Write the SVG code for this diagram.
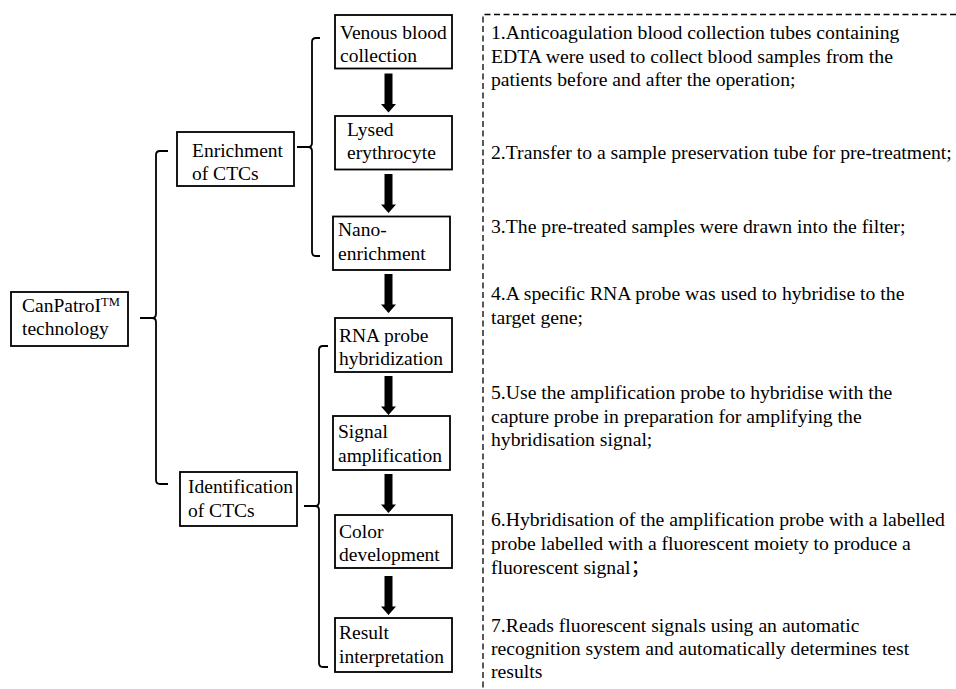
<svg xmlns="http://www.w3.org/2000/svg" xmlns:xlink="http://www.w3.org/1999/xlink" width="956" height="689" viewBox="0 0 956 689">
<style>
  .box { fill: #ffffff; stroke: #000000; stroke-width: 1.8; }
  .t { font-family: 'Liberation Serif', serif; font-size: 19.5px; fill: #000000; }
  .r { font-family: 'Liberation Serif', serif; font-size: 19.7px; fill: #000000; }
  .cjk { font-family: 'Liberation Serif', 'Noto Sans CJK SC', serif; }
  .br { fill: none; stroke: #000000; stroke-width: 1.8; }
  .dash { fill: none; stroke: #000000; stroke-width: 1.3; stroke-dasharray: 6 3.5; }
</style>
<defs>
  <path id="arrow" d="M -4 0 H 4 V 30.5 H 7.5 L 0 39 L -7.5 30.5 H -4 Z" fill="#000000"/>
</defs>
<rect width="956" height="689" fill="#ffffff"/>

<g id="connectors">
  <path class="br" d="M 168 151 H 160 Q 156 151 156 155 V 314 Q 156 318 152 318 H 140 M 152 318 Q 156 318 156 322 V 480 Q 156 484 160 484 H 168"/>
  <path class="br" d="M 320 38 H 316 Q 312 38 312 42 V 143 Q 312 147 308 147 H 297 M 308 147 Q 312 147 312 151 V 252 Q 312 256 316 256 H 320"/>
  <path class="br" d="M 328 346 H 323 Q 319 346 319 350 V 502 Q 319 506 315 506 H 304 M 315 506 Q 319 506 319 510 V 663 Q 319 667 323 667 H 328"/>
  <use xlink:href="#arrow" transform="translate(388.5 73.5)"/>
  <use xlink:href="#arrow" transform="translate(388.5 174)"/>
  <use xlink:href="#arrow" transform="translate(388.5 274)"/>
  <use xlink:href="#arrow" transform="translate(388.5 376)"/>
  <use xlink:href="#arrow" transform="translate(388.5 474)"/>
  <use xlink:href="#arrow" transform="translate(388.5 576)"/>
</g>

<g id="canpatrol">
  <rect class="box" x="11" y="292" width="117" height="54"/>
  <text class="t" x="22" y="312">CanPatroI<tspan font-size="12.5" dy="-6">TM</tspan></text>
  <text class="t" x="22" y="335">technology</text>
</g>

<g id="enrichment">
  <rect class="box" x="177" y="132" width="117" height="54"/>
  <text class="t" x="192" y="157">Enrichment</text>
  <text class="t" x="192" y="180">of CTCs</text>
</g>

<g id="identification">
  <rect class="box" x="180" y="472" width="117" height="54"/>
  <text class="t" x="188" y="493">Identification</text>
  <text class="t" x="188" y="517">of CTCs</text>
</g>

<g id="venous">
  <rect class="box" x="335" y="15" width="117" height="53.5"/>
  <text class="t" x="340" y="39">Venous blood</text>
  <text class="t" x="340" y="62">collection</text>
</g>

<g id="lysed">
  <rect class="box" x="335" y="116" width="117" height="53.5"/>
  <text class="t" x="347" y="135.5">Lysed</text>
  <text class="t" x="347" y="158.5">erythrocyte</text>
</g>

<g id="nano">
  <rect class="box" x="333" y="216.5" width="117" height="53.5"/>
  <text class="t" x="338" y="236">Nano-</text>
  <text class="t" x="338" y="260">enrichment</text>
</g>

<g id="rna">
  <rect class="box" x="335" y="318" width="117" height="54"/>
  <text class="t" x="339" y="342">RNA probe</text>
  <text class="t" x="339" y="365">hybridization</text>
</g>

<g id="signal">
  <rect class="box" x="333" y="416" width="117" height="54"/>
  <text class="t" x="338" y="438">Signal</text>
  <text class="t" x="338" y="462">amplification</text>
</g>

<g id="color">
  <rect class="box" x="335" y="515" width="117" height="53"/>
  <text class="t" x="339" y="538">Color</text>
  <text class="t" x="339" y="561">development</text>
</g>

<g id="result">
  <rect class="box" x="335" y="618" width="117" height="54"/>
  <text class="t" x="339" y="639">Result</text>
  <text class="t" x="339" y="663">interpretation</text>
</g>

<g id="steps">
  <path class="dash" d="M 956 14.5 H 483 V 689"/>
  <text class="r">
    <tspan x="491" y="39">1.Anticoagulation blood collection tubes containing</tspan>
    <tspan x="491" y="62.5">EDTA were used to collect blood samples from the</tspan>
    <tspan x="491" y="86">patients before and after the operation;</tspan>
  </text>
  <text class="r" x="491" y="159">2.Transfer to a sample preservation tube for pre-treatment;</text>
  <text class="r" x="491" y="233">3.The pre-treated samples were drawn into the filter;</text>
  <text class="r">
    <tspan x="491" y="300">4.A specific RNA probe was used to hybridise to the</tspan>
    <tspan x="491" y="323.5">target gene;</tspan>
  </text>
  <text class="r">
    <tspan x="491" y="399">5.Use the amplification probe to hybridise with the</tspan>
    <tspan x="491" y="422.5">capture probe in preparation for amplifying the</tspan>
    <tspan x="491" y="446">hybridisation signal;</tspan>
  </text>
  <text class="r">
    <tspan x="491" y="526">6.Hybridisation of the amplification probe with a labelled</tspan>
    <tspan x="491" y="550">probe labelled with a fluorescent moiety to produce a</tspan>
    <tspan x="491" y="574">fluorescent signal<tspan class="cjk">；</tspan></tspan>
  </text>
  <text class="r">
    <tspan x="491" y="632">7.Reads fluorescent signals using an automatic</tspan>
    <tspan x="491" y="655">recognition system and automatically determines test</tspan>
    <tspan x="491" y="678">results</tspan>
  </text>
</g>
</svg>
